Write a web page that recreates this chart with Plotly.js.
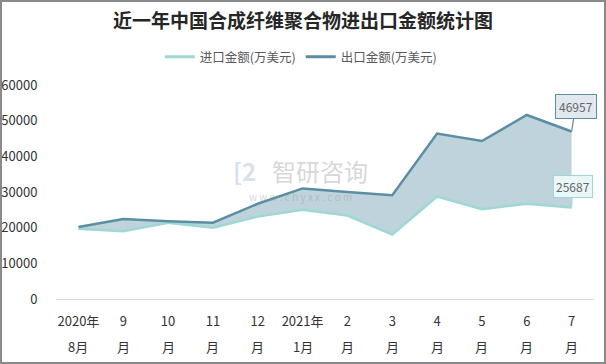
<!DOCTYPE html>
<html>
<head>
<meta charset="utf-8">
<script src="https://cdn.plot.ly/plotly-3.0.1.min.js"></script>
<style>
html,body{margin:0;padding:0;background:#fff;}
#wrap{position:relative;width:606px;height:364px;}
#chart{width:606px;height:364px;}
#frame{position:absolute;left:0;top:0;width:606px;height:364px;box-sizing:border-box;border:2px solid #8a8a8a;pointer-events:none;}
</style>
</head>
<body>
<div id="wrap"><div id="chart"></div><div id="frame"></div></div>
<script>
const categories = ["2020年8月","9月","10月","11月","12月","2021年1月","2月","3月","4月","5月","6月","7月"];
const tickLine1 = ["2020年","9","10","11","12","2021年","2","3","4","5","6","7"];
const tickLine2 = ["8月","月","月","月","月","1月","月","月","月","月","月","月"];
const importValues = [19700, 19000, 21400, 20000, 23100, 25000, 23400, 18100, 28700, 25200, 26700, 25687];
const exportValues = [20200, 22400, 21800, 21400, 26700, 31000, 30000, 29100, 46400, 44300, 51600, 46957];
const yTicks = [0, 10000, 20000, 30000, 40000, 50000, 60000];
const importName = "进口金额(万美元)";
const exportName = "出口金额(万美元)";

const font = "'Microsoft YaHei','Noto Sans CJK SC','Noto Sans',sans-serif";
const idx = categories.map((c,i)=>i);
const last = categories.length - 1;
const importColor = '#9dd8d2', exportColor = '#5b8ea3';

const traces = [
  {
    x: idx, y: importValues, name: importName, type: 'scatter', mode: 'lines',
    line: {color: importColor, width: 2.5}, showlegend: false
  },
  {
    x: idx, y: exportValues, name: exportName, type: 'scatter', mode: 'lines',
    fill: 'tonexty', fillcolor: 'rgba(157,187,201,0.65)',
    line: {color: exportColor, width: 2.5}, showlegend: false
  },
  {x: [null], y: [null], name: importName, type: 'scatter', mode: 'lines', line: {color: importColor, width: 3}},
  {x: [null], y: [null], name: exportName, type: 'scatter', mode: 'lines', line: {color: exportColor, width: 3}}
];

const annotations = [];
tickLine2.forEach((t,i)=>{
  annotations.push({x: i, xref: 'x', y: 0, yref: 'paper', yanchor: 'top', yshift: -36,
    text: t, showarrow: false, font: {family: font, size: 13, color: '#333333'}});
});
annotations.push({x: last, y: exportValues[last], xref: 'x', yref: 'y',
  text: String(exportValues[last]), showarrow: true, arrowhead: 0, arrowwidth: 1.2, arrowcolor: exportColor,
  ax: 4, ay: -25, bgcolor: '#e1e9ee', bordercolor: exportColor, borderwidth: 1, borderpad: 3,
  font: {family: font, size: 12, color: '#666666'}});
annotations.push({x: last, y: importValues[last], xref: 'x', yref: 'y',
  text: String(importValues[last]), showarrow: true, arrowhead: 0, arrowwidth: 1.2, arrowcolor: importColor,
  ax: 1, ay: -21, bgcolor: '#ebf6f6', bordercolor: importColor, borderwidth: 1, borderpad: 2,
  font: {family: font, size: 12, color: '#666666'}});
annotations.push({x: 0.49, y: 0.6, xref: 'paper', yref: 'paper', text: '智研咨询', showarrow: false,
  font: {family: font, size: 24, color: 'rgba(150,150,150,0.4)'}});
annotations.push({x: 0.455, y: 0.48, xref: 'paper', yref: 'paper', text: 'w w w . c h y x x . c o m', showarrow: false,
  font: {family: font, size: 10, color: 'rgba(150,150,150,0.4)'}});
annotations.push({x: 0.35, y: 0.6, xref: 'paper', yref: 'paper', text: '<b>[2</b>', showarrow: false,
  font: {family: font, size: 24, color: 'rgba(150,175,210,0.4)'}});

const layout = {
  width: 606, height: 364,
  margin: {l: 56, r: 12, t: 85, b: 65},
  paper_bgcolor: '#ffffff', plot_bgcolor: '#ffffff',
  title: {text: '<b>近一年中国合成纤维聚合物进出口金额统计图</b>', x: 0.5, xanchor: 'center', y: 0.94, yanchor: 'middle',
    font: {family: "'Noto Sans CJK SC',sans-serif", size: 19, color: '#262626'}},
  showlegend: true,
  legend: {orientation: 'h', x: 0.455, xanchor: 'center', y: 1.13, yanchor: 'middle',
    font: {family: font, size: 12.5, color: '#595959'}, itemwidth: 30, traceorder: 'normal'},
  xaxis: {
    range: [-0.5, last + 0.5], tickmode: 'array', tickvals: idx, ticktext: tickLine1,
    showgrid: false, zeroline: false, showline: true, linecolor: '#d9d9d9', linewidth: 1,
    ticks: 'outside', ticklen: 10, tickcolor: 'rgba(0,0,0,0)',
    tickfont: {family: font, size: 13, color: '#333333'}, fixedrange: true
  },
  yaxis: {
    range: [0, 60000], tickmode: 'array', tickvals: yTicks, ticktext: yTicks.map(String),
    showgrid: false, zeroline: false, showline: false,
    ticks: 'outside', ticklen: 15, tickcolor: 'rgba(0,0,0,0)',
    tickfont: {family: font, size: 13, color: '#333333'}, fixedrange: true
  },
  annotations: annotations
};

Plotly.newPlot('chart', traces, layout, {displayModeBar: false, staticPlot: true});
</script>
</body>
</html>
